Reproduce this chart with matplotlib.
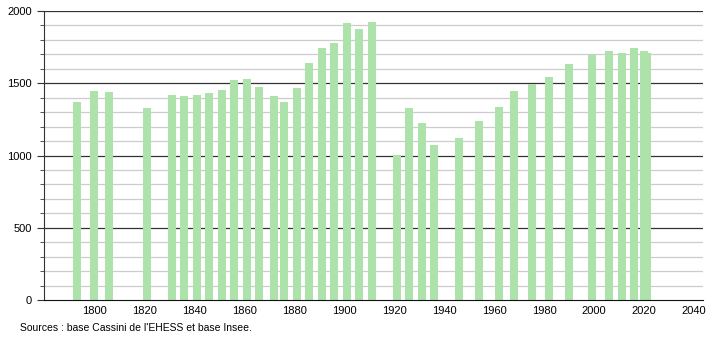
import matplotlib.pyplot as plt
import numpy as np

plt.rcParams['font.family'] = ['Liberation Sans', 'DejaVu Sans']

years = [1793, 1800, 1806, 1821, 1831, 1836, 1841, 1846, 1851, 1856,
         1861, 1866, 1872, 1876, 1881, 1886, 1891, 1896, 1901, 1906,
         1911, 1921, 1926, 1931, 1936, 1946, 1954, 1962, 1968, 1975,
         1982, 1990, 1999, 2006, 2011, 2016, 2020, 2021]
population = [1372, 1448, 1441, 1326, 1421, 1414, 1421, 1430, 1455, 1524,
              1529, 1476, 1414, 1368, 1469, 1637, 1745, 1782, 1917, 1876,
              1926, 1007, 1329, 1228, 1076, 1120, 1237, 1338, 1448, 1492,
              1540, 1634, 1697, 1724, 1708, 1747, 1725, 1711]
xticks = np.arange(1800, 2041, 20)
source = "Sources : base Cassini de l'EHESS et base Insee."

fig = plt.figure(figsize=(7.1, 3.4), dpi=100)
ax = fig.add_axes([0.062, 0.1176, 0.928, 0.85])

# grid: light every 100, dark every 500
for v in range(100, 2001, 100):
    if v % 500 == 0:
        ax.axhline(v, color='#333333', linewidth=0.9, zorder=1)
    else:
        ax.axhline(v, color='#cccccc', linewidth=0.9, zorder=1)

ax.bar(years, population, width=3.2, color='#ade3ab', zorder=2)

ax.set_xlim(1780, 2043.5)
ax.set_ylim(0, 2000)
ax.set_xticks(xticks)
ax.set_yticks(np.arange(0, 2001, 500))
ax.set_yticks(np.arange(0, 2001, 100), minor=True)
ax.tick_params(axis='x', length=0, labelsize=8, pad=4)
ax.tick_params(axis='y', which='major', length=5, labelsize=8, color='#333333')
ax.tick_params(axis='y', which='minor', length=3, color='#333333')

for side in ['top', 'right']:
    ax.spines[side].set_visible(False)
ax.spines['left'].set_color('#333333')
ax.spines['bottom'].set_color('#111111')

fig.text(20 / 710, 1 - 328 / 340, source, fontsize=7.5, va='center', ha='left')

plt.savefig('out.png', dpi=100)
